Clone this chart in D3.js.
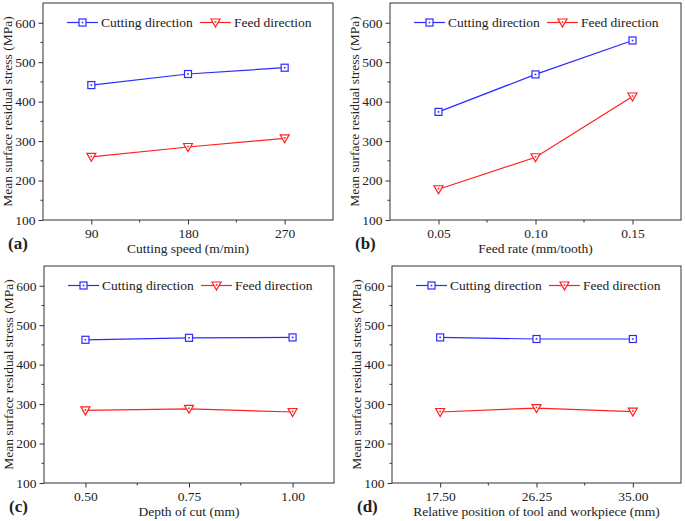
<!DOCTYPE html>
<html>
<head>
<meta charset="utf-8">
<script src="https://cdn.jsdelivr.net/npm/d3@7"></script>
<style>
  body { margin: 0; background: #fff; }
  text { font-family: "Liberation Serif", serif; fill: #222; }
</style>
</head>
<body>
<div class="chart"></div>
<script>
// data
var seriesNames = ["Cutting direction", "Feed direction"];
var yTicks = [100, 200, 300, 400, 500, 600];

var speedX = [90, 180, 270];
var speedCut = [442, 470, 486];
var speedFeed = [260, 285, 307];
var speedLabels = ["90", "180", "270"];

var feedX = [0.05, 0.10, 0.15];
var feedCut = [374, 469, 555];
var feedFeed = [178, 259, 413];
var feedLabels = ["0.05", "0.10", "0.15"];

var depthX = [0.50, 0.75, 1.00];
var depthCut = [463, 468, 469];
var depthFeed = [284, 288, 280];
var depthLabels = ["0.50", "0.75", "1.00"];

var posX = [17.5, 26.25, 35.0];
var posCut = [469, 465, 465];
var posFeed = [280, 290, 281];
var posLabels = ["17.50", "26.25", "35.00"];

var panels = [
    {tag: "(a)", x: speedX, cut: speedCut, feed: speedFeed, labels: speedLabels,
     domain: [45, 315], title: "Cutting speed (m/min)", left: 43, right: 333, top: 3, bottom: 220},
    {tag: "(b)", x: feedX, cut: feedCut, feed: feedFeed, labels: feedLabels,
     domain: [0.025, 0.175], title: "Feed rate (mm/tooth)", left: 390, right: 681, top: 3, bottom: 220},
    {tag: "(c)", x: depthX, cut: depthCut, feed: depthFeed, labels: depthLabels,
     domain: [0.40, 1.10], title: "Depth of cut (mm)", left: 44, right: 334, top: 266, bottom: 483},
    {tag: "(d)", x: posX, cut: posCut, feed: posFeed, labels: posLabels,
     domain: [13.125, 39.375], title: "Relative position of tool and workpiece (mm)", left: 392, right: 681, top: 266, bottom: 483}
];

var blue = "#2b2bff", red = "#ff2020", frame = "#333";
var serif = "'Liberation Serif', serif";

var svg = d3.select(".chart").append("svg")
    .attr("width", 685)
    .attr("height", 521);

function drawMarker(g, kind, color, cx, cy) {
    if (kind === 0) {
        g.append("rect")
            .attr("x", cx - 3.5).attr("y", cy - 3.5)
            .attr("width", 7).attr("height", 7)
            .attr("fill", "#fff").attr("stroke", color).attr("stroke-width", 1.2);
        g.append("rect")
            .attr("x", cx - 0.8).attr("y", cy - 0.8)
            .attr("width", 1.6).attr("height", 1.6)
            .attr("fill", color);
    } else {
        g.append("path")
            .attr("d", "M" + (cx - 4.5) + "," + (cy - 3.5) + "L" + (cx + 4.5) + "," + (cy - 3.5) + "L" + cx + "," + (cy + 4.5) + "Z")
            .attr("fill", "#fff").attr("stroke", color).attr("stroke-width", 1.2);
        g.append("rect")
            .attr("x", cx - 0.8).attr("y", cy - 1.3)
            .attr("width", 1.6).attr("height", 1.6)
            .attr("fill", color);
    }
}

panels.forEach(function (p) {
    var x = d3.scaleLinear().domain(p.domain).range([p.left, p.right]);
    var y = d3.scaleLinear().domain([100, 650]).range([p.bottom, p.top]);
    var g = svg.append("g");

    // minor y ticks
    var minorY = d3.range(150, 650, 100);
    g.selectAll(".my").data(minorY).enter().append("line")
        .attr("x1", p.left - 2.5).attr("x2", p.left)
        .attr("y1", function (d) { return y(d); })
        .attr("y2", function (d) { return y(d); })
        .attr("stroke", frame);

    // minor x ticks, halfway between majors
    var minorX = [(p.x[0] + p.x[1]) / 2, (p.x[1] + p.x[2]) / 2];
    g.selectAll(".mx").data(minorX).enter().append("line")
        .attr("x1", function (d) { return x(d); })
        .attr("x2", function (d) { return x(d); })
        .attr("y1", p.bottom).attr("y2", p.bottom + 2.5)
        .attr("stroke", frame);

    // y axis
    var yAxis = g.append("g")
        .attr("transform", "translate(" + p.left + ",0)")
        .call(d3.axisLeft(y).tickValues(yTicks).tickSize(4.5).tickPadding(3));
    yAxis.select(".domain").remove();
    yAxis.selectAll("line").attr("stroke", frame);
    yAxis.selectAll("text").style("font-size", "13.5px").attr("fill", "#222")
        .style("font-family", serif);

    // x axis
    var xAxis = g.append("g")
        .attr("transform", "translate(0," + p.bottom + ")")
        .call(d3.axisBottom(x).tickValues(p.x).tickSize(4.5).tickPadding(4)
            .tickFormat(function (d, i) { return p.labels[i]; }));
    xAxis.select(".domain").remove();
    xAxis.selectAll("line").attr("stroke", frame);
    xAxis.selectAll("text").style("font-size", "13.5px").attr("fill", "#222")
        .style("font-family", serif);

    // frame
    g.append("rect")
        .attr("x", p.left).attr("y", p.top)
        .attr("width", p.right - p.left).attr("height", p.bottom - p.top)
        .attr("fill", "none").attr("stroke", frame).attr("stroke-width", 1);

    // lines + markers
    var line = d3.line()
        .x(function (d) { return x(d[0]); })
        .y(function (d) { return y(d[1]); });
    [p.cut, p.feed].forEach(function (vals, k) {
        var color = k === 0 ? blue : red;
        var pts = p.x.map(function (v, i) { return [v, vals[i]]; });
        g.append("path").datum(pts)
            .attr("d", line)
            .attr("fill", "none").attr("stroke", color).attr("stroke-width", 1.2);
        pts.forEach(function (d) {
            drawMarker(g, k, color, x(d[0]), y(d[1]));
        });
    });

    // legend
    var ly = p.top + 19.5;
    seriesNames.forEach(function (name, k) {
        var color = k === 0 ? blue : red;
        var lx = p.left + 24 + k * 133;
        g.append("line")
            .attr("x1", lx).attr("x2", lx + 31)
            .attr("y1", ly).attr("y2", ly)
            .attr("stroke", color).attr("stroke-width", 1.2);
        drawMarker(g, k, color, lx + 15.5, ly);
        g.append("text")
            .attr("x", lx + 34).attr("y", ly + 4.5)
            .style("font-size", "13.5px")
            .text(name);
    });

    // axis titles
    g.append("text")
        .attr("x", (p.left + p.right) / 2)
        .attr("y", p.bottom + 33)
        .attr("text-anchor", "middle")
        .style("font-size", "13.5px")
        .text(p.title);
    g.append("text")
        .attr("transform", "translate(" + (p.left - 31) + "," + ((p.top + p.bottom) / 2) + ") rotate(-90)")
        .attr("text-anchor", "middle")
        .style("font-size", "13.5px")
        .text("Mean surface residual stress (MPa)");

    // panel tag
    g.append("text")
        .attr("x", p.left - 35)
        .attr("y", p.bottom + 29)
        .style("font-size", "17px")
        .style("font-weight", "bold")
        .text(p.tag);
});
</script>
</body>
</html>
